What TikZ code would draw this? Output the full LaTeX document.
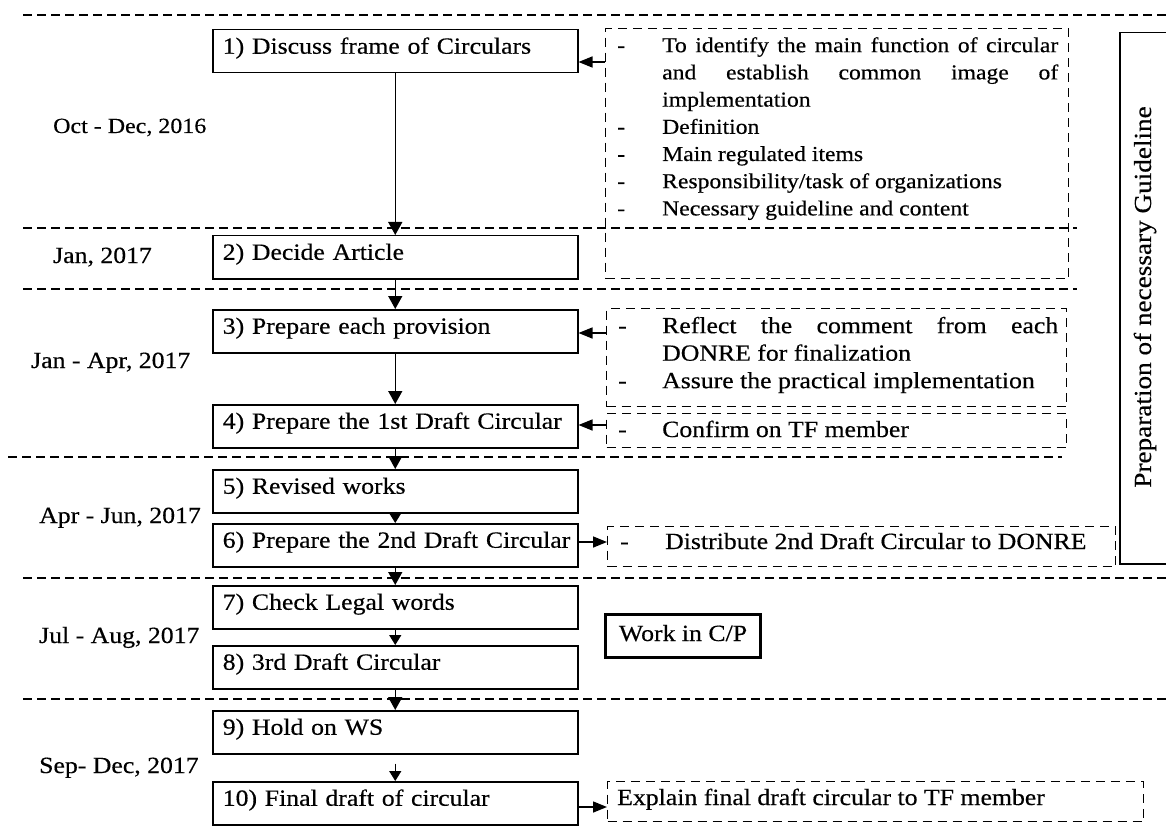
\documentclass[tikz,border=0pt]{standalone}
\usepackage{fontspec}
\setmainfont{Liberation Serif}[FakeStretch=1.11, FakeBold=0.4]
\usetikzlibrary{arrows.meta}

\begin{document}
\begin{tikzpicture}[x=1pt,y=-1pt,
  every node/.style={font=\fontsize{23.2}{27.5}\selectfont},
  stepbox/.style={draw, line width=1.5pt, anchor=north west,
    minimum width=365pt, minimum height=43pt, inner xsep=10pt, inner ysep=0pt,
    text width=345pt, align=left, text height=14pt, text depth=9pt},
  notebox/.style={draw, dash pattern=on 9pt off 6pt, line width=1.4pt,
    anchor=north west, inner sep=0pt},
  notetext/.style={anchor=base west, inner sep=0pt},
  period/.style={anchor=base west, inner sep=0pt},
  sepline/.style={dash pattern=on 9pt off 5pt, line width=1.8pt},
  flow/.style={line width=1.5pt, -{Triangle[length=13pt,width=14pt]}},
  shortflow/.style={line width=1.5pt, -{Triangle[length=10pt,width=12pt]}},
  side/.style={line width=1.5pt, -{Triangle[length=14pt,width=11pt]}},
]
\useasboundingbox (0,0) rectangle (1166,834);
\clip (0,0) rectangle (1166,834);
\fill[white] (0,0) rectangle (1166,834);

% period separators
\draw[sepline] (23,15) -- (1166,15);
\draw[sepline] (23,228) -- (1077,228);
\draw[sepline] (23,289) -- (1077,289);
\draw[sepline] (8,457) -- (1062,457);
\draw[sepline] (23,578) -- (1166,578);
\draw[sepline] (23,699) -- (1166,699);

% period labels
\node[period, font=\fontsize{21.6}{26}\selectfont] (p1) at (53,133) {Oct - Dec, 2016};
\node[period] (p2) at (53,263) {Jan, 2017};
\node[period] (p3) at (31,368) {Jan - Apr, 2017};
\node[period] (p4) at (39,523) {Apr - Jun, 2017};
\node[period] (p5) at (39,643) {Jul - Aug, 2017};
\node[period] (p6) at (39,773) {Sep- Dec, 2017};

% process steps
\node[stepbox] (s1)  at (212,29)  {\mbox{1) Discuss frame of Circulars}};
\node[stepbox] (s2)  at (212,235) {\mbox{2) Decide Article}};
\node[stepbox] (s3)  at (212,309) {\mbox{3) Prepare each provision}};
\node[stepbox] (s4)  at (212,404) {\mbox{4) Prepare the 1st Draft Circular}};
\node[stepbox] (s5)  at (212,469) {\mbox{5) Revised works}};
\node[stepbox] (s6)  at (212,523) {\mbox{6) Prepare the 2nd Draft Circular}};
\node[stepbox] (s7)  at (212,585) {\mbox{7) Check Legal words}};
\node[stepbox] (s8)  at (212,645) {\mbox{8) 3rd Draft Circular}};
\node[stepbox] (s9)  at (212,710) {\mbox{9) Hold on WS}};
\node[stepbox] (s10) at (212,781) {\mbox{10) Final draft of circular}};

% flow between steps
\draw[flow] (s1.south) -- (s2.north);
\draw[flow] (s2.south) -- (s3.north);
\draw[flow] (s3.south) -- (s4.north);
\draw[flow] (s4.south) -- (s5.north);
\draw[shortflow] (s5.south) -- (s6.north);
\draw[flow] (s6.south) -- (s7.north);
\draw[shortflow] (s7.south) -- (s8.north);
\draw[flow] (s8.south) -- (s9.north);
\draw[shortflow] ([yshift=-9pt]s9.south) -- (s10.north);

% notes attached to the steps
\node[notebox, minimum width=463pt, minimum height=250pt] (n1) at (605,28) {};
\node[anchor=north west, inner sep=0pt, text width=441pt, align=justify,
      font=\fontsize{21.3}{27.2}\selectfont] (n1text) at (617,35) {%
  \hyphenpenalty=10000 \tolerance=10000
  \rule{0pt}{17pt}\hangindent=45pt\hangafter=1\makebox[45pt][l]{-}To identify the main function of circular\linebreak and establish common image of\linebreak implementation\par
  \hangindent=45pt\hangafter=1\makebox[45pt][l]{-}Definition\par
  \hangindent=45pt\hangafter=1\makebox[45pt][l]{-}Main regulated items\par
  \hangindent=45pt\hangafter=1\makebox[45pt][l]{-}Responsibility/task of organizations\par
  \hangindent=45pt\hangafter=1\makebox[45pt][l]{-}Necessary guideline and content\par};

\node[notebox, minimum width=460pt, minimum height=98pt] (n2) at (606,308) {};
\node[anchor=north west, inner sep=0pt, text width=440pt, align=justify,
      font=\fontsize{23.2}{27.5}\selectfont] (n2text) at (618,316) {%
  \hyphenpenalty=10000 \tolerance=10000
  \rule{0pt}{17pt}\hangindent=44pt\hangafter=1\makebox[44pt][l]{-}Reflect the comment from each\linebreak DONRE for finalization\par
  \hangindent=44pt\hangafter=1\makebox[44pt][l]{-}Assure the practical implementation\par};

\node[notebox, minimum width=460pt, minimum height=34pt] (n3) at (606,413) {};
\node[notetext] (n3text) at (618,437) {\makebox[44pt][l]{-}Confirm on TF member};

\node[notebox, minimum width=508pt, minimum height=40pt] (n4) at (607,526) {};
\node[notetext] (n4text) at (620,549) {\makebox[45pt][l]{-}Distribute 2nd Draft Circular to DONRE};

\node[notebox, minimum width=536pt, minimum height=40pt] (n5) at (607,781) {};
\node[notetext] (n5text) at (617,805) {Explain final draft circular to TF member};

% side arrows
\coordinate (r1) at (0,62);
\coordinate (r3) at (0,333);
\coordinate (r4) at (0,425);
\coordinate (r6) at (0,542);
\coordinate (r10) at (0,807);
\draw[side] (n1.west |- r1) -- (s1.east |- r1);
\draw[side] (n2.west |- r3) -- (s3.east |- r3);
\draw[side] (n3.west |- r4) -- (s4.east |- r4);
\draw[side] (s6.east |- r6) -- (n4.west |- r6);
\draw[side] (s10.east |- r10) -- (n5.west |- r10);

% C/P work marker
\node[draw, line width=3pt, minimum height=43pt, inner xsep=13pt, inner ysep=0pt,
      text height=15pt, text depth=4pt] (cp) at (683,635.5) {Work in C/P};

% guideline band
\node[draw, line width=1.5pt, anchor=north west, minimum width=53pt,
      minimum height=531pt, inner sep=0pt] (guide) at (1119,32) {};
\node[rotate=90, inner sep=0pt, font=\fontsize{24.5}{28}\selectfont] (guidetext) at (1145,297) {Preparation of necessary Guideline};
\end{tikzpicture}
\end{document}
